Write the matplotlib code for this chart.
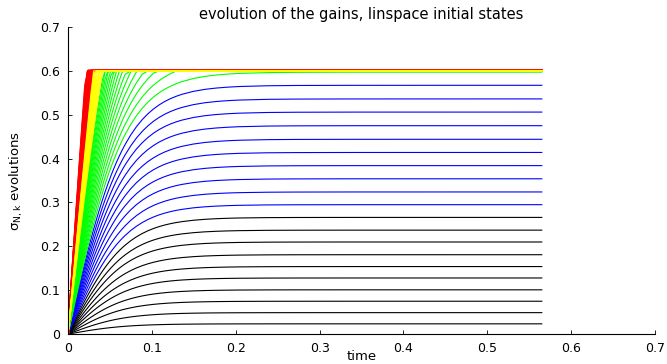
import numpy as np
import matplotlib
matplotlib.use("Agg")
import matplotlib.pyplot as plt

plt.rcParams["font.family"] = ["DejaVu Sans"]
plt.rcParams["mathtext.default"] = "regular"

t_end = 0.565
cap = 0.6
tau = 0.068  # time scale of the rise

# shape of one rise (fraction of the final gain) against time / tau
u_grid = [0, 0.05, 0.10, 0.15, 0.20, 0.25, 0.30, 0.35, 0.40, 0.45, 0.50, 0.55, 0.60,
          0.65, 0.70, 0.75, 0.80, 0.85, 0.90, 0.95, 1.00, 1.10, 1.20, 1.30, 1.40,
          1.50, 1.60, 1.70, 1.80, 1.90, 2.00, 2.20, 2.40, 2.60, 2.80, 3.00, 3.50,
          4.00, 5.00]
rise = [0, 0.0500, 0.0997, 0.1489, 0.1974, 0.2449, 0.2913, 0.3364, 0.3800, 0.4219,
        0.4621, 0.5005, 0.5371, 0.5717, 0.6044, 0.6352, 0.6640, 0.6911, 0.7163,
        0.7398, 0.7616, 0.8005, 0.8337, 0.8617, 0.8854, 0.9052, 0.9217, 0.9354,
        0.9468, 0.9562, 0.9640, 0.9757, 0.9837, 0.9890, 0.9926, 0.9951, 0.9982,
        0.9993, 0.9999]

# final gains (black and blue read from the plateaus; the others are cut at 0.6)
black_levels = [0.0235, 0.049, 0.075, 0.101, 0.128, 0.154, 0.181, 0.210, 0.237, 0.266]
blue_levels = [0.295, 0.324, 0.354, 0.384, 0.414, 0.444, 0.475, 0.506, 0.536, 0.567]
green_levels = [0.597, 0.627, 0.657, 0.687, 0.717, 0.747, 0.777, 0.807, 0.837,
                0.867, 0.897, 0.927, 0.957, 0.987, 1.017, 1.047, 1.077]
yellow_levels = [1.107, 1.137, 1.167, 1.197, 1.227, 1.257, 1.287, 1.317, 1.347,
                 1.377, 1.407, 1.437]
red_levels = [1.467, 1.497, 1.527, 1.557, 1.587, 1.617, 1.647, 1.677, 1.707, 1.737,
              1.767, 1.797, 1.827, 1.857, 1.887, 1.917, 1.947]

ticks = [0, 0.1, 0.2, 0.3, 0.4, 0.5, 0.6, 0.7]
tick_labels = ["0", "0.1", "0.2", "0.3", "0.4", "0.5", "0.6", "0.7"]

t = tau * np.array(u_grid)
keep = t < t_end
x = np.append(t[keep], t_end)
r = np.append(np.array(rise)[keep], 1.0)

fig = plt.figure(figsize=(6.67, 3.64), dpi=100)
ax = fig.add_axes([0.102, 0.082, 0.880, 0.844])


def draw(levels, color, lw):
    for level in levels:
        ax.plot(x, np.minimum(cap, level * r), color=color, lw=lw)


draw(black_levels, "k", 0.8)
draw(blue_levels, "#0000ff", 0.8)
draw(green_levels, "#00ff00", 0.8)
draw(red_levels, "#ff0000", 1.4)
draw(yellow_levels, "#ffff00", 0.8)

ax.set_xlim(0, 0.7)
ax.set_ylim(0, 0.7)
ax.set_xticks(ticks)
ax.set_xticklabels(tick_labels)
ax.set_yticks(ticks)
ax.set_yticklabels(tick_labels)
ax.tick_params(direction="in", length=3, width=0.6, labelsize=9)
ax.tick_params(axis="x", pad=6)
ax.tick_params(axis="y", pad=6)
ax.spines["top"].set_visible(False)
ax.spines["right"].set_visible(False)
for s in ["left", "bottom"]:
    ax.spines[s].set_linewidth(0.8)

ax.set_title("evolution of the gains, linspace initial states", fontsize=10.5, pad=6)
ax.set_xlabel("time", fontsize=9.5)
ax.xaxis.set_label_coords(0.5, -0.052)
ax.set_ylabel(r"$\sigma_{N,k}$ evolutions", fontsize=9.5)
ax.yaxis.set_label_coords(-0.074, 0.5)

fig.savefig("out.png", dpi=100)
